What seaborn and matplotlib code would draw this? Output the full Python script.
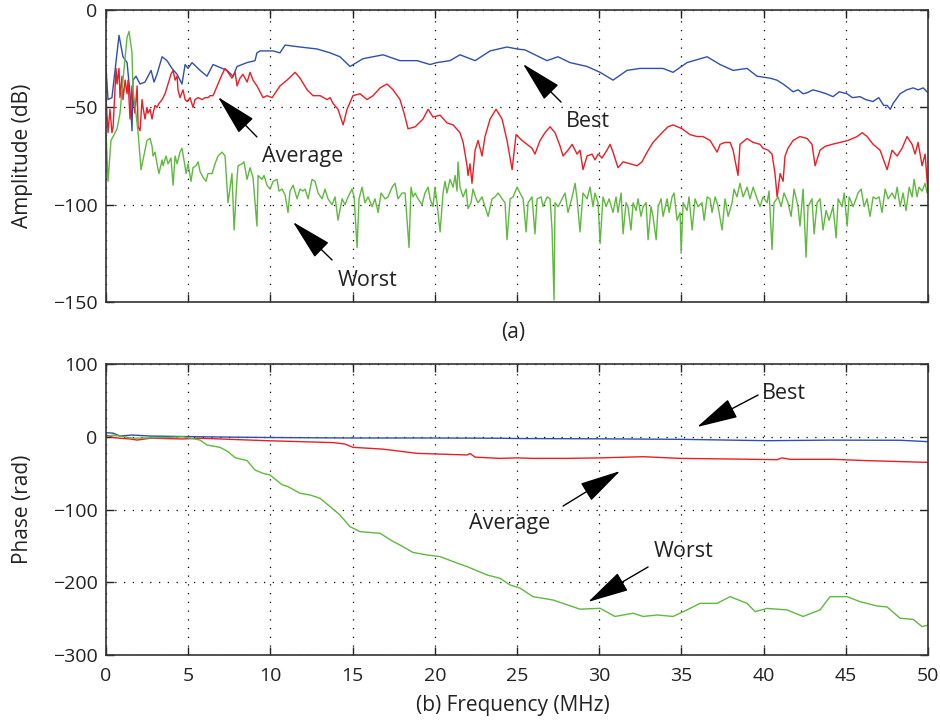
import matplotlib
matplotlib.use("Agg")
import matplotlib.pyplot as plt
import seaborn as sns
import pandas as pd

# ---------------- Amplitude (dB) ----------------
amp_best_f = [0.00, 0.12, 0.36, 0.79, 1.03, 1.28, 1.46, 1.58, 1.64, 1.82, 2.07, 2.37, 2.74, 2.92, 3.10,
              3.41, 3.71, 4.01, 4.32, 4.62, 4.81, 4.99, 5.23, 5.72, 6.14, 6.51, 7.36, 7.73, 7.97, 8.58,
              9.06, 9.18, 9.37, 10.16, 10.58, 10.89, 11.80, 12.83, 13.63, 14.23, 14.84, 15.63, 16.85,
              17.88, 18.92, 19.71, 20.13, 20.92, 21.53, 22.45, 23.36, 24.39, 25.00, 25.49, 26.82, 27.49,
              28.22, 29.26, 30.05, 30.84, 31.69, 32.48, 33.88, 34.49, 35.34, 36.56, 37.35, 38.14, 38.99,
              39.60, 40.39, 40.80, 41.18, 41.50, 41.79, 42.10, 42.40, 42.64, 43.00, 43.43, 43.80, 44.22,
              44.60, 45.07, 45.40, 45.86, 46.20, 46.65, 47.00, 47.30, 47.51, 47.70, 47.87, 48.30, 48.70,
              49.09, 49.40, 49.70, 50.00]
amp_best_db = [-30, -46, -45, -13, -24, -27, -43, -62, -36, -34, -38, -37, -31, -37, -33,
               -24, -26, -30, -33, -38, -28, -30, -27, -31, -34, -28, -31, -34, -29, -27,
               -26, -22, -21, -21, -22, -18, -19, -20, -22, -24, -29, -25, -23,
               -26, -26, -28, -27, -26, -23, -26, -21, -19, -20, -20.5, -26, -24,
               -27, -29, -32, -36, -31, -30, -30, -32, -27, -24, -28, -31, -30,
               -34, -35, -36, -38, -40, -42, -41, -43, -42.5, -41, -42, -43, -44.5,
               -42, -43, -45, -44.5, -46, -47, -45, -49, -49, -51, -48, -43, -41,
               -40, -41, -40, -42.5]

amp_avg_f = [0.00, 0.12, 0.24, 0.36, 0.43, 0.61, 0.67, 0.79, 0.85, 0.97, 1.03, 1.16, 1.28, 1.34, 1.46,
             1.58, 1.64, 1.76, 1.89, 1.95, 2.07, 2.19, 2.25, 2.37, 2.49, 2.55, 2.68, 2.80, 2.86, 2.98,
             3.10, 3.22, 3.41, 3.59, 3.77, 3.95, 4.08, 4.20, 4.32, 4.38, 4.50, 4.68, 4.81, 4.93, 5.11,
             5.29, 5.41, 5.60, 5.84, 6.02, 6.20, 6.33, 6.51, 6.81, 7.06, 7.24, 7.42, 7.66, 7.85, 7.97,
             8.15, 8.33, 8.58, 8.76, 8.94, 9.18, 9.55, 9.79, 10.10, 10.58, 11.01, 11.50, 11.80, 12.23,
             12.59, 13.02, 13.44, 13.63, 13.81, 14.11, 14.42, 14.66, 15.02, 15.45, 15.88, 16.24, 16.67,
             17.09, 17.46, 17.88, 18.13, 18.37, 18.80, 19.28, 19.59, 19.89, 20.32, 20.74, 21.11, 21.53,
             21.72, 21.96, 22.02, 22.14, 22.26, 22.45, 22.63, 22.87, 23.05, 23.36, 23.72, 24.09, 24.39,
             24.70, 24.94, 25.30, 25.61, 25.91, 26.09, 26.40, 26.70, 27.01, 27.31, 27.62, 27.80, 28.10,
             28.35, 28.65, 28.83, 29.01, 29.26, 29.56, 29.74, 29.93, 30.17, 30.47, 30.66, 30.84, 31.14,
             31.45, 31.87, 32.30, 32.60, 32.91, 33.27, 33.82, 34.18, 34.49, 35.04, 35.52, 35.95, 36.31,
             36.74, 37.17, 37.35, 37.65, 37.96, 38.14, 38.44, 38.56, 38.99, 39.36, 39.78, 39.96, 40.27,
             40.51, 40.69, 40.82, 41.00, 41.18, 41.30, 41.48, 41.79, 42.21, 42.64, 42.94, 43.13, 43.43,
             43.74, 44.16, 44.65, 45.13, 45.68, 45.99, 46.29, 46.66, 47.08, 47.51, 47.81, 48.12, 48.42,
             48.72, 49.03, 49.21, 49.39, 49.64, 49.82, 50.00]
amp_avg_db = [-45, -63, -51, -63, -60, -30, -38, -30, -45, -34, -46, -36, -43, -36, -56,
              -39, -46, -53, -39, -60, -62, -46, -50, -56, -50, -53, -51, -56, -53, -49,
              -50, -48, -46, -43, -38, -33, -31, -36, -34, -41, -45, -41, -46, -47, -45,
              -50, -46, -45, -46, -45, -45, -44, -44, -38, -33, -30, -32, -35, -32, -39,
              -35, -33, -37, -32, -36, -39, -45, -44, -45, -39, -36, -32, -35, -41,
              -44, -44, -46, -45, -48, -51, -59, -51, -44, -43, -46, -44, -40,
              -38, -41, -46, -53, -61, -60, -56, -51, -55, -54, -58, -59, -63,
              -68, -80, -85, -79, -89, -72, -67, -75, -65, -56, -51, -56, -67,
              -82, -64, -67, -69, -71, -74, -67, -63, -60, -63, -70, -75, -72,
              -69, -74, -72, -82, -75, -74, -77, -74, -76, -72, -69, -73, -81,
              -78, -79, -80, -78, -73, -68, -63, -60, -59, -61, -64, -65, -65,
              -67, -73, -69, -68, -68, -72, -85, -69, -66, -68, -69, -71, -72,
              -74, -84, -96, -84, -88, -75, -71, -67, -65, -66, -69, -80, -72,
              -70, -69, -68, -67, -65, -63, -65, -69, -72, -82, -72, -75, -71,
              -65, -69, -74, -68, -80, -74, -94]

amp_worst_f = [0.00, 0.12, 0.30, 0.43, 0.67, 0.85, 1.03, 1.28, 1.40, 1.58, 1.64, 1.82, 1.95, 2.13, 2.25,
               2.49, 2.68, 2.80, 2.86, 2.98, 3.10, 3.22, 3.41, 3.47, 3.65, 3.77, 3.95, 4.08, 4.20, 4.32,
               4.50, 4.62, 4.74, 4.87, 4.99, 5.17, 5.29, 5.47, 5.60, 5.72, 5.90, 6.08, 6.20, 6.45, 6.63,
               6.81, 7.06, 7.24, 7.42, 7.66, 7.79, 7.97, 8.03, 8.27, 8.39, 8.58, 8.76, 8.94, 9.18, 9.25,
               9.49, 9.61, 9.79, 9.98, 10.16, 10.40, 10.52, 10.71, 10.89, 11.07, 11.19, 11.38, 11.62, 11.80,
               11.98, 12.11, 12.29, 12.53, 12.71, 12.90, 13.14, 13.32, 13.50, 13.75, 13.93, 14.11, 14.36,
               14.54, 14.72, 14.96, 15.09, 15.27, 15.39, 15.57, 15.75, 15.94, 16.18, 16.36, 16.55, 16.73,
               16.97, 17.15, 17.40, 17.58, 17.76, 18.01, 18.19, 18.43, 18.55, 18.67, 18.80, 18.98, 19.22,
               19.40, 19.59, 19.71, 19.89, 20.01, 20.13, 20.32, 20.50, 20.62, 20.74, 20.92, 21.11, 21.23,
               21.35, 21.41, 21.53, 21.72, 21.90, 22.02, 22.20, 22.32, 22.51, 22.63, 22.87, 23.05, 23.24,
               23.48, 23.66, 23.85, 24.09, 24.27, 24.39, 24.58, 24.76, 25.00, 25.18, 25.37, 25.55, 25.67,
               25.91, 26.09, 26.22, 26.46, 26.58, 26.83, 27.01, 27.13, 27.25, 27.31, 27.50, 27.74, 27.92,
               28.10, 28.35, 28.53, 28.65, 28.83, 29.01, 29.26, 29.44, 29.62, 29.74, 29.93, 30.05, 30.23,
               30.42, 30.60, 30.84, 31.02, 31.14, 31.33, 31.45, 31.63, 31.75, 31.93, 32.06, 32.24, 32.36,
               32.54, 32.67, 32.85, 32.97, 33.15, 33.27, 33.46, 33.58, 33.76, 33.88, 34.13, 34.25, 34.43,
               34.55, 34.73, 34.92, 34.98, 35.10, 35.34, 35.46, 35.65, 35.83, 36.01, 36.25, 36.38, 36.56,
               36.74, 36.86, 37.05, 37.23, 37.47, 37.65, 37.84, 38.08, 38.20, 38.38, 38.56, 38.75, 38.99,
               39.17, 39.36, 39.60, 39.78, 39.96, 40.21, 40.33, 40.51, 40.63, 40.88, 41.06, 41.24, 41.48,
               41.67, 41.85, 42.09, 42.21, 42.40, 42.58, 42.70, 42.94, 43.07, 43.25, 43.43, 43.61, 43.80,
               43.98, 44.22, 44.41, 44.53, 44.77, 44.90, 45.08, 45.20, 45.44, 45.62, 45.74, 45.93, 46.11,
               46.29, 46.47, 46.66, 46.84, 47.02, 47.20, 47.39, 47.57, 47.81, 47.99, 48.12, 48.30, 48.48,
               48.66, 48.85, 49.03, 49.15, 49.33, 49.45, 49.64, 49.82, 49.94, 50.00]
amp_worst_db = [-63, -88, -67, -65, -61, -53, -36, -14, -11, -22, -41, -53, -63, -82, -77,
                -67, -66, -70, -75, -73, -79, -84, -77, -80, -75, -79, -76, -90, -75, -79,
                -73, -71, -77, -84, -79, -88, -81, -80, -78, -83, -86, -88, -84, -84, -79,
                -75, -73, -75, -99, -84, -113, -86, -80, -79, -78, -87, -81, -86, -111, -85,
                -87, -85, -90, -92, -88, -87, -93, -92, -95, -104, -93, -90, -97, -92,
                -93, -92, -97, -87, -88, -94, -97, -92, -97, -100, -96, -108, -97,
                -100, -96, -92, -96, -122, -97, -91, -99, -96, -101, -97, -104, -94,
                -97, -96, -91, -89, -97, -94, -94, -122, -91, -96, -94, -97, -100,
                -94, -91, -97, -101, -91, -99, -114, -94, -88, -94, -87, -91, -85,
                -93, -78, -91, -96, -92, -102, -99, -92, -97, -99, -96, -101, -106,
                -97, -96, -94, -97, -99, -118, -97, -96, -91, -94, -97, -114, -99,
                -96, -115, -97, -96, -101, -96, -97, -113, -149, -99, -101, -97, -94,
                -104, -96, -89, -97, -114, -94, -97, -91, -101, -94, -99, -120, -96,
                -101, -97, -104, -96, -104, -94, -115, -99, -101, -113, -99, -103, -97,
                -106, -101, -99, -118, -101, -106, -118, -101, -97, -106, -97, -104, -96,
                -94, -108, -104, -125, -99, -103, -96, -113, -97, -101, -99, -108, -96,
                -97, -104, -96, -101, -113, -97, -106, -99, -92, -96, -89, -96, -91,
                -97, -91, -97, -101, -96, -99, -93, -123, -99, -96, -101, -94, -99,
                -106, -92, -101, -111, -92, -127, -101, -97, -115, -99, -97, -113, -103,
                -108, -101, -117, -97, -101, -94, -111, -96, -101, -97, -94, -92, -101,
                -97, -106, -96, -97, -96, -104, -92, -97, -94, -97, -91, -101, -94,
                -103, -91, -96, -87, -96, -91, -93, -89, -94, -92]

# ---------------- Phase (rad) ----------------
ph_best_f = [0.00, 0.43, 0.85, 1.58, 2.68, 5.72, 9.79, 14.84, 19.89, 23.97, 25.00, 30.00, 34.92,
             40.21, 44.00, 48.30, 50.00]
ph_best_rad = [5.6, 5.0, 1.0, 2.4, 1.0, 0.0, -1.0, -1.7, -1.7, -2.0, -2.4, -2.8, -3.5,
               -5.4, -4.6, -4.8, -6.7]

ph_avg_f = [0.00, 0.43, 0.85, 1.46, 1.89, 2.68, 4.68, 5.72, 9.79, 13.81, 14.54, 15.02, 16.85, 18.92,
            21.96, 22.14, 22.45, 23.97, 25.00, 25.97, 28.04, 30.05, 32.67, 34.92, 38.14, 40.82, 41.12,
            41.60, 44.22, 46.29, 50.00]
ph_avg_rad = [2.4, -1.0, -2.0, -3.0, -4.5, -2.0, -3.0, -2.0, -5.4, -8.0, -10.0, -14.5, -17.0, -22.8,
              -25.0, -23.0, -28.0, -29.7, -29.0, -29.7, -29.7, -29.0, -27.4, -29.7, -30.6, -31.5, -29.0,
              -31.0, -31.0, -32.8, -35.2]

ph_worst_f = [0.00, 0.43, 1.64, 3.71, 4.68, 5.72, 6.14, 6.93, 7.42, 7.85, 8.58, 9.06, 9.55, 9.98,
              10.71, 11.07, 11.80, 12.41, 13.02, 13.63, 14.23, 14.84, 15.45, 16.67, 17.46, 17.88, 18.67,
              19.53, 20.32, 21.11, 21.96, 23.18, 23.97, 24.58, 25.18, 25.97, 27.19, 28.83, 30.05, 30.96,
              32.06, 32.67, 33.52, 34.49, 35.34, 36.13, 37.17, 37.96, 38.99, 39.48, 40.21, 41.42, 42.40,
              43.43, 44.04, 45.08, 45.86, 46.90, 47.51, 48.30, 49.09, 49.64, 50.00]
ph_worst_rad = [0.0, 2.4, -2.0, -1.0, 0.0, -4.5, -11.3, -14.5, -20.5, -28.7, -32.8, -45.7, -50.3, -52.6,
                -66.0, -68.6, -77.7, -80.0, -84.6, -96.0, -107.5, -123.6, -130.4, -132.7, -144.0, -148.8,
                -159.0, -162.5, -164.8, -171.6, -178.5, -190.0, -194.6, -203.8, -208.0, -219.8, -224.4,
                -237.0, -235.8, -247.0, -242.6, -247.0, -245.0, -247.0, -238.0, -229.0, -229.0, -219.8,
                -229.0, -240.4, -236.0, -238.0, -247.0, -238.0, -219.8, -219.8, -226.7, -232.6, -234.0,
                -249.5, -251.0, -261.0, -259.0]

x_ticks = [0, 5, 10, 15, 20, 25, 30, 35, 40, 45, 50]
amp_ticks = [-150, -100, -50, 0]
ph_ticks = [-300, -200, -100, 0, 100]

C_BEST = "#2f4fae"
C_AVG = "#ee1c24"
C_WORST = "#5eb93e"

sns.set_theme(style="ticks")
plt.rcParams["font.family"] = ["Open Sans", "DejaVu Sans"]
plt.rcParams["axes.unicode_minus"] = True

fig = plt.figure(figsize=(9.4, 7.22), dpi=100)
ax1 = fig.add_axes([0.1128, 0.5817, 0.8745, 0.4044])
ax2 = fig.add_axes([0.1128, 0.0928, 0.8745, 0.4030])

amp_series = [(amp_best_f, amp_best_db, C_BEST),
              (amp_avg_f, amp_avg_db, C_AVG),
              (amp_worst_f, amp_worst_db, C_WORST)]
for f, v, c in amp_series:
    sns.lineplot(x=f, y=v, ax=ax1, color=c, linewidth=1.0, estimator=None, sort=False)

ph_series = [(ph_best_f, ph_best_rad, C_BEST),
             (ph_avg_f, ph_avg_rad, C_AVG),
             (ph_worst_f, ph_worst_rad, C_WORST)]
for f, v, c in ph_series:
    sns.lineplot(x=f, y=v, ax=ax2, color=c, linewidth=1.0, estimator=None, sort=False)

TXT_C = "#222222"
for ax in (ax1, ax2):
    ax.set_xlim(0, 50)
    ax.set_xticks(x_ticks)
    ax.grid(True, color="black", linestyle=(0, (1, 6)), linewidth=0.9)
    ax.tick_params(direction="in", length=6, width=1, top=True, right=True, labelsize=14,
                   colors=TXT_C)
    ax.tick_params(axis="y", pad=6)
    ax.tick_params(axis="x", pad=9)
    for s in ax.spines.values():
        s.set_visible(True)
        s.set_color("#333333")
        s.set_linewidth(1.2)
    ax.set_facecolor("white")

LBL = 15
ax1.set_ylim(-150, 0)
ax1.set_yticks(amp_ticks)
ax1.set_xticklabels([])
ax1.set_ylabel("Amplitude (dB)", fontsize=LBL, color=TXT_C)
ax1.yaxis.set_label_coords(-0.089, 0.5)

ax2.set_ylim(-300, 100)
ax2.set_yticks(ph_ticks)
ax2.set_xticklabels([str(t) for t in x_ticks])
ax2.set_ylabel("Phase (rad)", fontsize=LBL, color=TXT_C)
ax2.yaxis.set_label_coords(-0.089, 0.5)

arrow = dict(arrowstyle="-|>,head_length=1.45,head_width=0.36", color="black", lw=1.0,
             mutation_scale=18, shrinkA=0, shrinkB=0)

txt = dict(fontsize=15.5, color=TXT_C, ha="center", va="center")
# amplitude annotations
ax1.annotate("", xy=(25.36, -27.7), xytext=(27.68, -47.3), arrowprops=arrow)
ax1.text(29.32, -57.5, "Best", **txt)
ax1.annotate("", xy=(6.81, -44.7), xytext=(9.18, -65.2), arrowprops=arrow)
ax1.text(11.98, -75.0, "Average", **txt)
ax1.annotate("", xy=(11.37, -108.9), xytext=(13.75, -128.4), arrowprops=arrow)
ax1.text(15.88, -138.7, "Worst", **txt)

# phase annotations
ax2.annotate("", xy=(35.95, 13.4), xytext=(39.66, 57.4), arrowprops=arrow)
ax2.text(41.24, 60.1, "Best", **txt)
ax2.annotate("", xy=(31.27, -47.1), xytext=(27.8, -95.2), arrowprops=arrow)
ax2.text(24.57, -118.6, "Average", **txt)
ax2.annotate("", xy=(29.32, -227.1), xytext=(32.97, -179.0), arrowprops=arrow)
ax2.text(35.1, -158.4, "Worst", **txt)

fig.text(0.5457, 1 - 333 / 722, "(a)", fontsize=LBL, color=TXT_C, ha="center", va="center")
fig.text(0.5457, 1 - 706 / 722, "(b) Frequency (MHz)", fontsize=LBL, color=TXT_C,
         ha="center", va="center")

fig.savefig("out.png", dpi=100, facecolor="white")
